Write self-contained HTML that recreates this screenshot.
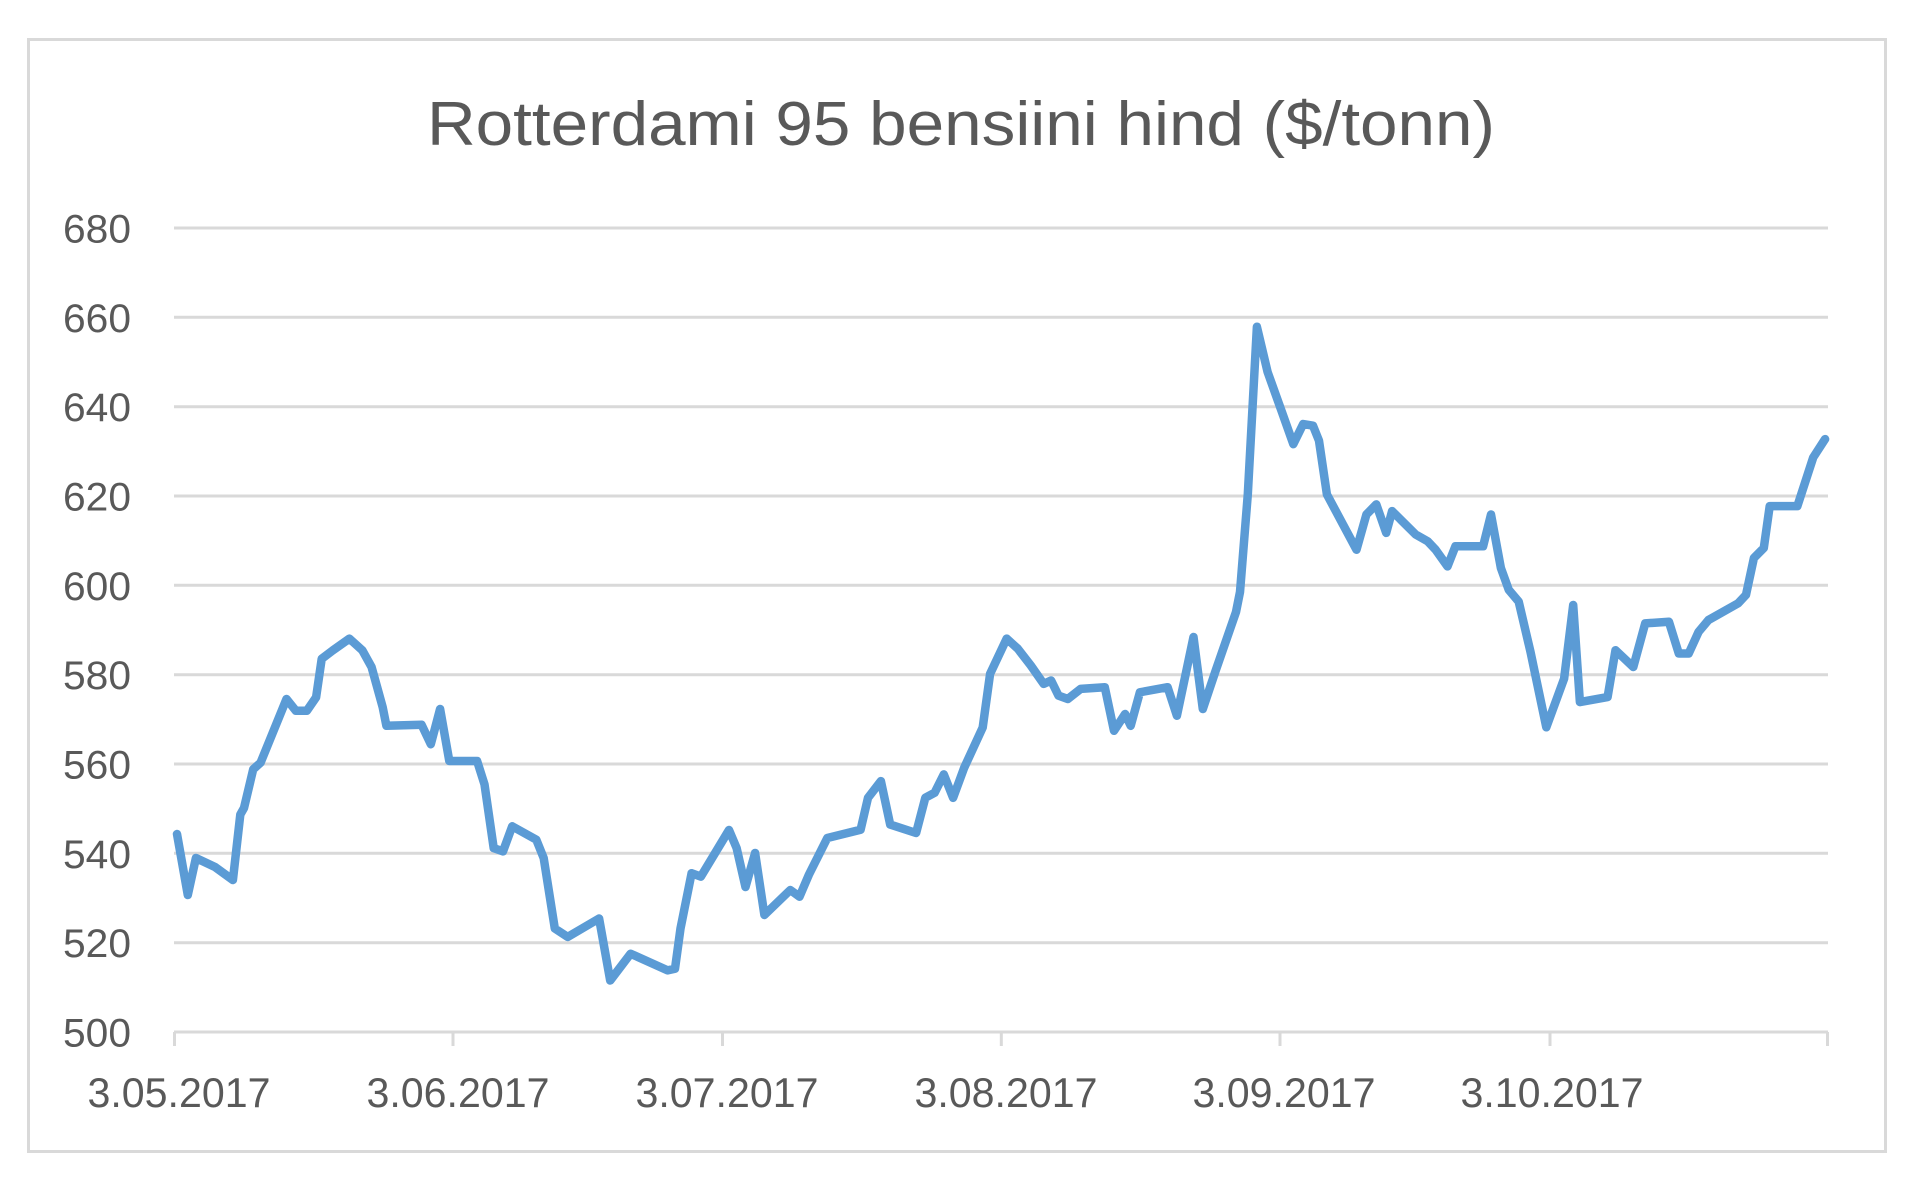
<!DOCTYPE html>
<html>
<head>
<meta charset="utf-8">
<style>
  html, body { margin: 0; padding: 0; background: #ffffff; }
  body { width: 1920px; height: 1204px; overflow: hidden; }
  svg { display: block; }
  text { font-family: "Liberation Sans", "DejaVu Sans", sans-serif; fill: #595959; }
</style>
</head>
<body>
<svg width="1920" height="1204" viewBox="0 0 1920 1204" xmlns="http://www.w3.org/2000/svg">
  <rect x="0" y="0" width="1920" height="1204" fill="#ffffff"/>
  <!-- chart border -->
  <rect x="28.5" y="39.5" width="1857" height="1112" fill="#ffffff" stroke="#d9d9d9" stroke-width="3"/>

  <!-- title -->
  <text x="427" y="145" font-size="62" textLength="1068" lengthAdjust="spacingAndGlyphs">Rotterdami 95 bensiini hind ($/tonn)</text>

  <!-- gridlines -->
  <g stroke="#d9d9d9" stroke-width="3" fill="none">
    <line x1="174" y1="228" x2="1828" y2="228"/>
    <line x1="174" y1="317.3" x2="1828" y2="317.3"/>
    <line x1="174" y1="406.7" x2="1828" y2="406.7"/>
    <line x1="174" y1="496" x2="1828" y2="496"/>
    <line x1="174" y1="585.3" x2="1828" y2="585.3"/>
    <line x1="174" y1="674.7" x2="1828" y2="674.7"/>
    <line x1="174" y1="764" x2="1828" y2="764"/>
    <line x1="174" y1="853.3" x2="1828" y2="853.3"/>
    <line x1="174" y1="942.7" x2="1828" y2="942.7"/>
    <line x1="174" y1="1032" x2="1828" y2="1032"/>
    <!-- ticks -->
    <line x1="174.5" y1="1032" x2="174.5" y2="1046"/>
    <line x1="453" y1="1032" x2="453" y2="1046"/>
    <line x1="722.5" y1="1032" x2="722.5" y2="1046"/>
    <line x1="1001.3" y1="1032" x2="1001.3" y2="1046"/>
    <line x1="1280" y1="1032" x2="1280" y2="1046"/>
    <line x1="1550" y1="1032" x2="1550" y2="1046"/>
    <line x1="1827.5" y1="1032" x2="1827.5" y2="1046"/>
  </g>

  <!-- y labels -->
  <g font-size="40" text-anchor="end">
    <text x="131" y="242.5" textLength="68" lengthAdjust="spacingAndGlyphs">680</text>
    <text x="131" y="331.8" textLength="68" lengthAdjust="spacingAndGlyphs">660</text>
    <text x="131" y="421.2" textLength="68" lengthAdjust="spacingAndGlyphs">640</text>
    <text x="131" y="510.5" textLength="68" lengthAdjust="spacingAndGlyphs">620</text>
    <text x="131" y="599.8" textLength="68" lengthAdjust="spacingAndGlyphs">600</text>
    <text x="131" y="689.2" textLength="68" lengthAdjust="spacingAndGlyphs">580</text>
    <text x="131" y="778.5" textLength="68" lengthAdjust="spacingAndGlyphs">560</text>
    <text x="131" y="867.8" textLength="68" lengthAdjust="spacingAndGlyphs">540</text>
    <text x="131" y="957.2" textLength="68" lengthAdjust="spacingAndGlyphs">520</text>
    <text x="131" y="1046.5" textLength="68" lengthAdjust="spacingAndGlyphs">500</text>
  </g>

  <!-- x labels -->
  <g font-size="42" text-anchor="middle">
    <text x="179" y="1107" textLength="183" lengthAdjust="spacingAndGlyphs">3.05.2017</text>
    <text x="458" y="1107" textLength="183" lengthAdjust="spacingAndGlyphs">3.06.2017</text>
    <text x="727" y="1107" textLength="183" lengthAdjust="spacingAndGlyphs">3.07.2017</text>
    <text x="1006" y="1107" textLength="183" lengthAdjust="spacingAndGlyphs">3.08.2017</text>
    <text x="1284" y="1107" textLength="183" lengthAdjust="spacingAndGlyphs">3.09.2017</text>
    <text x="1552" y="1107" textLength="183" lengthAdjust="spacingAndGlyphs">3.10.2017</text>
  </g>

  <!-- series -->
  <polyline fill="none" stroke="#5b9bd5" stroke-width="8.5" stroke-linejoin="round" stroke-linecap="round"
    points="177,834 187.8,895 195.9,858 215,867 232.9,880 240.3,814.6 244,808 253.2,769.3 260.6,762.6 286.5,699 295.8,710.7 306.9,710.7 316.1,697.3 321.7,658.8 332.8,650.4 349.4,638.6 362.4,650.4 371.6,667.1 382.7,707.3 386.4,725.8 421.6,724.8 430.8,744.2 440.1,709 449.3,761 477.1,761 484.5,784.4 493.7,848.1 503,851.4 512.2,826.3 536.3,839.7 543.7,858.1 554.8,928.5 567.7,936.9 599.1,918.5 610.2,980.5 630.6,953.7 667.6,970.4 675,968.7 680.5,928.5 691.6,873.2 700.9,876.6 729,830 736.6,848 745.5,887 755.1,853 764.4,915 790.3,890 799.5,896.7 808.8,874.9 827.3,838 860.6,829.7 868,797.8 880.9,781.1 890.2,824.6 916.1,833 925.3,797.8 934.6,792.8 943.8,774.4 953.1,797.8 964.2,767.7 982.7,727.5 990.1,673.8 1006.7,638.6 1017.8,648.7 1030.8,665.5 1043.7,683.9 1051.1,680.5 1058.5,695.6 1067.8,699 1080.7,688.9 1104.8,687.2 1114,730.8 1125.1,714 1130.7,725.8 1139.9,692.3 1167.6,687.2 1176.9,715.7 1193.5,637 1202.8,709 1215.7,670.5 1236,612 1240,592 1247.8,494.4 1256.9,326.8 1267.6,372 1281.4,410.6 1293.3,444.1 1303.2,424 1313,425.7 1319,440.7 1326.9,494.4 1356.5,549.7 1366.4,514.5 1376.3,504.4 1386.2,532.9 1392.1,511.1 1415.8,534.6 1427.7,541.3 1435.6,549.7 1447.5,566.4 1455.4,546.3 1483.1,546.3 1491,514.5 1500.9,568.1 1508.8,589.9 1518.7,601.6 1530.5,651.9 1546.3,727.3 1564.1,678.7 1573.2,605 1579.9,702.1 1607.6,697.1 1615.5,650.2 1633.3,667 1645.2,623.4 1668.9,621.7 1678.8,653.5 1688.7,653.5 1698.6,631.8 1708.5,620 1738.1,603.3 1746,594.9 1753.9,558 1763.8,548 1769.7,506.1 1797.4,506.1 1813.2,457.5 1825.1,439.1"/>
</svg>
</body>
</html>
